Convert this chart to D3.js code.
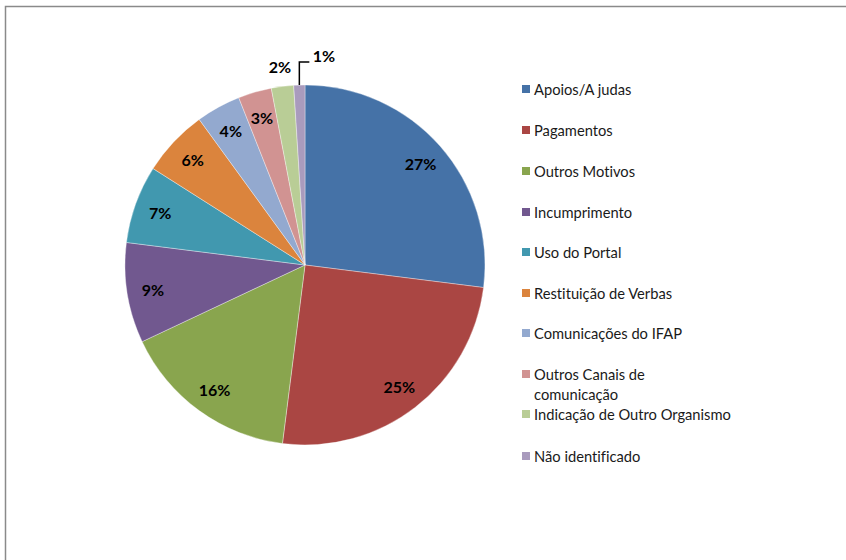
<!DOCTYPE html>
<html>
<head>
<meta charset="utf-8">
<script src="https://cdn.jsdelivr.net/npm/d3@7"></script>
<style>
  html, body { margin: 0; padding: 0; background: #fff; }
  svg { display: block; }
  text { font-family: Lato, "Open Sans", "Liberation Sans", sans-serif; font-variant-ligatures: none; font-feature-settings: "liga" 0; }
</style>
</head>
<body>
<svg id="chart" width="846" height="560"></svg>
<script>
// Reasons for contact, share of total (%)
const categories = [
  "Apoios/A judas",
  "Pagamentos",
  "Outros Motivos",
  "Incumprimento",
  "Uso do Portal",
  "Restituição de Verbas",
  "Comunicações do IFAP",
  "Outros Canais de comunicação",
  "Indicação de Outro Organismo",
  "Não identificado"
];
const values = [27, 25, 16, 9, 7, 6, 4, 3, 2, 1];
const colors = ["#4572A7", "#AA4643", "#89A54E", "#71588F", "#4198AF",
                "#DB843D", "#93A9CF", "#D19392", "#B9CD96", "#A99BBD"];
// legend wrapping for long entries
const legendLines = [
  ["Apoios/A judas"], ["Pagamentos"], ["Outros Motivos"], ["Incumprimento"],
  ["Uso do Portal"], ["Restituição de Verbas"], ["Comunicações do IFAP"],
  ["Outros Canais de", "comunicação"], ["Indicação de Outro Organismo"], ["Não identificado"]
];

const svg = d3.select("#chart");

// outer frame
svg.append("rect")
  .attr("x", 5.5).attr("y", 6.5)
  .attr("width", 900).attr("height", 600)
  .attr("fill", "none").attr("stroke", "#8a8a8a").attr("stroke-width", 1.5);

const cx = 305, cy = 265, R = 180;
const data = categories.map((c, i) => ({ name: c, value: values[i], color: colors[i] }));

const pie = d3.pie().value(d => d.value).sort(null);
const arcs = pie(data);
const arc = d3.arc().innerRadius(0).outerRadius(R);

const g = svg.append("g").attr("transform", `translate(${cx},${cy})`);

g.selectAll("path.slice")
  .data(arcs)
  .enter().append("path")
  .attr("class", "slice")
  .attr("d", arc)
  .attr("fill", d => d.data.color)
  .attr("stroke", "#ffffff")
  .attr("stroke-opacity", 0.6)
  .attr("stroke-width", 0.6);

// value labels
const inner = d3.arc().innerRadius(154).outerRadius(154);
const outer2 = d3.arc().innerRadius(200).outerRadius(200);

arcs.forEach((a, i) => {
  let x, y;
  if (i < 8) {
    [x, y] = inner.centroid(a);
  } else if (i === 8) {
    [x, y] = outer2.centroid(a);
  } else {
    // smallest slice: label pulled to the right with a leader line
    const mid = (a.startAngle + a.endAngle) / 2;
    const px = R * Math.sin(mid), py = -R * Math.cos(mid);
    const ly = -203;
    g.append("path")
      .attr("d", `M${px},${py} L${px},${ly} L${px + 10},${ly}`)
      .attr("fill", "none").attr("stroke", "#000").attr("stroke-width", 1.5);
    x = 19; y = -210;
  }
  g.append("text")
    .attr("x", x).attr("y", y)
    .attr("text-anchor", "middle")
    .attr("dominant-baseline", "central")
    .attr("font-size", 16)
    .attr("font-weight", "bold")
    .attr("fill", "#000")
    .text(a.data.value + "%");
});

// legend
const legendY = [89, 130, 171, 212, 252, 293, 333, 374, 414, 456];
const lg = svg.append("g");
legendLines.forEach((lines, i) => {
  const y = legendY[i];
  lg.append("rect")
    .attr("x", 522).attr("y", y - 4)
    .attr("width", 8).attr("height", 8)
    .attr("fill", colors[i]);
  lines.forEach((t, j) => {
    lg.append("text")
      .attr("x", 534).attr("y", y + j * 20)
      .attr("dominant-baseline", "central")
      .attr("font-size", 14.7)
      .attr("fill", "#1a1a1a")
      .text(t);
  });
});
</script>
</body>
</html>
